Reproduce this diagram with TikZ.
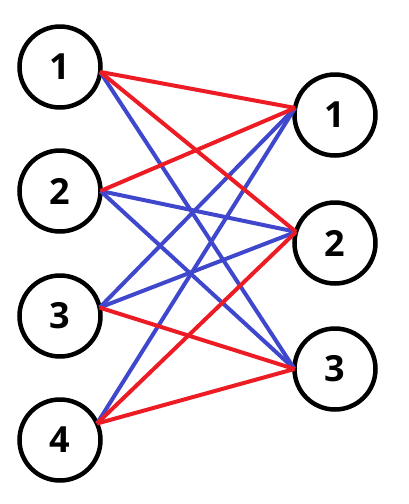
\documentclass[tikz,border=0pt]{standalone}
\usepackage{fontspec}
\setsansfont{Open Sans}
\usetikzlibrary{positioning}
\definecolor{edgered}{RGB}{237,28,36}
\definecolor{edgeblue}{RGB}{63,72,204}
\tikzset{
  vertex/.style={circle, draw=black, line width=4.5pt, fill=white,
                 minimum size=81pt, inner sep=0pt, outer sep=0pt,
                 font=\fontsize{36}{36}\selectfont\sffamily\bfseries},
  redge/.style={draw=edgered, line width=4pt},
  bedge/.style={draw=edgeblue, line width=4pt}
}
\begin{document}
\begin{tikzpicture}[x=1pt, y=-1pt]
\useasboundingbox (0,0) rectangle (408,504);
% left column
\foreach \i/\y in {1/67, 2/191, 3/316, 4/440}
  \node[vertex] (l\i) at (60,\y) {\i};
% right column
\foreach \i/\y in {1/115, 2/243, 3/369}
  \node[vertex] (r\i) at (335,\y) {\i};
% blue edges
\draw[bedge] (l1.-7) -- (r3.180);
\draw[bedge] (l2.0) -- (r2.164);
\draw[bedge] (l2.0) -- (r3.180);
\draw[bedge] (l3.12) -- (r1.170);
\draw[bedge] (l3.12) -- (r2.164);
\draw[bedge] (l4.24) -- (r1.170);
% red edges
\draw[redge] (l1.-7) -- (r1.170);
\draw[redge] (l1.-7) -- (r2.164);
\draw[redge] (l2.0) -- (r1.170);
\draw[redge] (l3.12) -- (r3.180);
\draw[redge] (l4.24) -- (r2.164);
\draw[redge] (l4.24) -- (r3.180);
\end{tikzpicture}
\end{document}
